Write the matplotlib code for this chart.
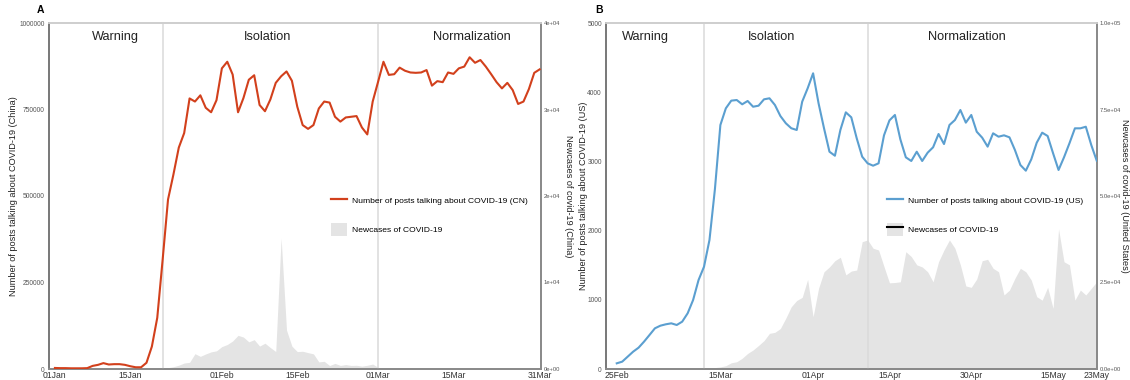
import matplotlib
matplotlib.use("Agg")
import matplotlib.pyplot as plt
from matplotlib.lines import Line2D
from matplotlib.patches import Patch
from matplotlib.legend_handler import HandlerTuple
import pandas as pd

plt.rcParams['font.family'] = ['Liberation Sans', 'DejaVu Sans']

# ---------------- data ----------------
cn_start = "2020-01-01"
cn_posts = [3000, 2500, 2500, 2000, 2000, 2000, 2500, 9000, 12000, 17000,
            13000, 14000, 14000, 12000, 8000, 5000, 5000, 18000, 65000, 148000,
            316000, 490000, 562000, 640000, 682000, 782000, 773000, 791000, 755000, 742000,
            777000, 869000, 888000, 851000, 742000, 783000, 836000, 849000, 763000, 745000,
            779000, 827000, 846000, 860000, 833000, 758000, 705000, 694000, 705000, 753000,
            773000, 770000, 729000, 715000, 727000, 729000, 731000, 698000, 678000, 773000,
            830000, 888000, 850000, 852000, 871000, 862000, 857000, 856000, 857000, 864000,
            819000, 832000, 829000, 857000, 853000, 869000, 874000, 901000, 885000, 893000,
            874000, 852000, 829000, 811000, 827000, 806000, 766000, 773000, 809000, 856000,
            866000]
cn_cases_start = "2020-01-21"
cn_cases = [80, 150, 260, 440, 690, 770, 1770, 1460, 1740, 1980,
            2100, 2590, 2830, 3240, 3890, 3690, 3140, 3390, 2650, 2980,
            2480, 2020, 15150, 4500, 2640, 2010, 2050, 1890, 1750, 820,
            890, 400, 650, 410, 510, 410, 430, 330, 430, 570, 200]
cn_phases = ["2020-01-21", "2020-03-01"]

us_start = "2020-02-25"
us_posts = [82, 106, 178, 250, 308, 395, 491, 588, 626, 646,
            660, 636, 684, 805, 997, 1286, 1478, 1864, 2600, 3526,
            3767, 3878, 3887, 3825, 3873, 3790, 3805, 3897, 3912, 3815,
            3656, 3551, 3479, 3454, 3863, 4056, 4273, 3840, 3479, 3140,
            3082, 3454, 3709, 3637, 3333, 3068, 2972, 2938, 2972, 3377,
            3593, 3671, 3318, 3059, 3006, 3140, 3006, 3126, 3204, 3396,
            3251, 3526, 3598, 3743, 3560, 3671, 3429, 3343, 3213, 3406,
            3357, 3377, 3348, 3165, 2948, 2866, 3030, 3270, 3415, 3367,
            3117, 2876, 3059, 3262, 3478, 3478, 3501, 3237, 3010]
us_cases_start = "2020-03-12"
us_cases = [200, 300, 400, 600, 950, 1800, 2100, 3100, 4500, 5500,
            6800, 8200, 10300, 10600, 11700, 14700, 18000, 19800, 20700, 25900,
            15100, 23300, 28100, 29500, 31300, 32300, 27200, 28300, 28600, 36800,
            37300, 34900, 34400, 29600, 24900, 25000, 25200, 33900, 32500, 30100,
            29500, 28100, 25200, 31000, 34400, 37300, 34900, 30100, 24000, 23600,
            26000, 31300, 31700, 29100, 28100, 21400, 22800, 26200, 29100, 28100,
            25700, 20900, 19900, 23600, 17500, 40500, 31000, 30100, 19900, 22800,
            21400, 23300, 25200]
us_phases = ["2020-03-12", "2020-04-11"]

phase_names = ["Warning", "Isolation", "Normalization"]
cn_ticks = ["2020-01-01", "2020-01-15", "2020-02-01", "2020-02-15", "2020-03-01", "2020-03-15", "2020-03-31"]
us_ticks = ["2020-02-25", "2020-03-15", "2020-04-01", "2020-04-15", "2020-04-30", "2020-05-15", "2020-05-23"]

RED = "#D2401C"
BLUE = "#5B9FD0"
AREA = "#E4E4E4"
VLINE = "#DADADA"

fig = plt.figure(figsize=(11.3, 3.8), dpi=100)
W, H = 1130.0, 380.0


def panel(rect, start, posts, cstart, cases, phases, phase_x, ticks, color,
          ylim, yticks, ylabels, y2lim, y2ticks, y2labels, ylabel, y2label,
          leg_label, leg_pos, letter, letter_x, xpad, black_in_patch, lx, rx):
    ax = fig.add_axes(rect)
    ax2 = ax.twinx()
    ax.set_zorder(ax2.get_zorder() + 1)
    ax.patch.set_visible(False)

    x = pd.date_range(start, periods=len(posts))
    xc = pd.date_range(cstart, periods=len(cases))
    ax2.fill_between(xc, 0, cases, color=AREA, lw=0)
    for p in phases:
        ax.axvline(pd.Timestamp(p), color=VLINE, lw=1.1, zorder=1)
    ax.plot(x, posts, color=color, lw=1.5, zorder=3)

    ax.set_xlim(x[0] - pd.Timedelta(days=xpad[0]), x[-1] + pd.Timedelta(days=xpad[1]))
    ax.set_ylim(*ylim)
    ax2.set_ylim(*y2lim)
    ax.set_yticks(yticks)
    ax.set_yticklabels(ylabels)
    ax2.set_yticks(y2ticks)
    ax2.set_yticklabels(y2labels)
    tk = pd.to_datetime(ticks)
    ax.set_xticks(tk)
    ax.set_xticklabels([t.strftime("%d%b") for t in tk])

    ax.tick_params(axis='y', length=0, pad=3, labelsize=4.8, labelcolor='#555555')
    ax2.tick_params(axis='y', length=0, pad=2, labelsize=4.2, labelcolor='#555555')
    ax.tick_params(axis='x', length=0, pad=1.5, labelsize=6.2, labelcolor='#333333')

    for a in (ax, ax2):
        a.spines['left'].set_color('#7A7A7A')
        a.spines['bottom'].set_color('#8A8A8A')
        a.spines['top'].set_color('#CFCFCF')
        a.spines['right'].set_color('#8A8A8A')
        for s in a.spines.values():
            s.set_linewidth(1.3)

    yc = 1 - 196 / H
    fig.text(lx / W, yc, ylabel, fontsize=6.6, color='#222222', rotation=90,
             ha='center', va='center', rotation_mode='anchor')
    fig.text(rx / W, yc, y2label, fontsize=6.6, color='#222222', rotation=270,
             ha='center', va='center', rotation_mode='anchor')

    for name, px in zip(phase_names, phase_x):
        ax.text(pd.Timestamp(start) + pd.Timedelta(days=px), ylim[1] * 0.96, name,
                ha='center', va='center', fontsize=9.2, color='#222222')

    line_h = Line2D([], [], color=color, lw=1.6)
    patch_h = Patch(facecolor=AREA, edgecolor='none')
    if black_in_patch:
        second = (patch_h, Line2D([], [], color='black', lw=1.5))
    else:
        second = patch_h
    ax.legend([line_h, second], [leg_label, "Newcases of COVID-19"],
              loc='center left', bbox_to_anchor=leg_pos,
              bbox_transform=fig.transFigure, frameon=False,
              fontsize=6.1, handlelength=1.9, handleheight=2.0,
              labelspacing=1.85, handletextpad=0.55, borderpad=0,
              borderaxespad=0,
              handler_map={tuple: HandlerTuple(ndivide=1, pad=0)})

    fig.text(letter_x, 1 - 10 / H, letter, fontsize=7.5, fontweight='bold',
             ha='left', va='center')
    return ax


panel([49 / W, 1 - 369 / H, 492 / W, 346 / H], cn_start, cn_posts,
      cn_cases_start, cn_cases, cn_phases, [11.3, 39.4, 77.4], cn_ticks, RED,
      (0, 1000000), [0, 250000, 500000, 750000, 1000000],
      ["0", "250000", "500000", "750000", "1000000"],
      (0, 40000), [0, 10000, 20000, 30000, 40000],
      ["0e+00", "1e+04", "2e+04", "3e+04", "4e+04"],
      "Number of posts talking about COVID-19 (China)",
      "Newcases of covid-19 (China)",
      "Number of posts talking about COVID-19 (CN)",
      (331 / W, 1 - 215 / H), "A", 37 / W, (1.1, 0.25), False, 14, 568)

panel([606 / W, 1 - 369 / H, 491 / W, 346 / H], us_start, us_posts,
      us_cases_start, us_cases, us_phases, [5.3, 28.3, 64.2], us_ticks, BLUE,
      (0, 5000), [0, 1000, 2000, 3000, 4000, 5000],
      ["0", "1000", "2000", "3000", "4000", "5000"],
      (0, 100000), [0, 25000, 50000, 75000, 100000],
      ["0.0e+00", "2.5e+04", "5.0e+04", "7.5e+04", "1.0e+05"],
      "Number of posts talking about COVID-19 (US)",
      "Newcases of covid-19 (United States)",
      "Number of posts talking about COVID-19 (US)",
      (887 / W, 1 - 215 / H), "B", 595 / W, (1.97, 0.05), True, 583, 1124)

fig.savefig("out.png", dpi=100)
